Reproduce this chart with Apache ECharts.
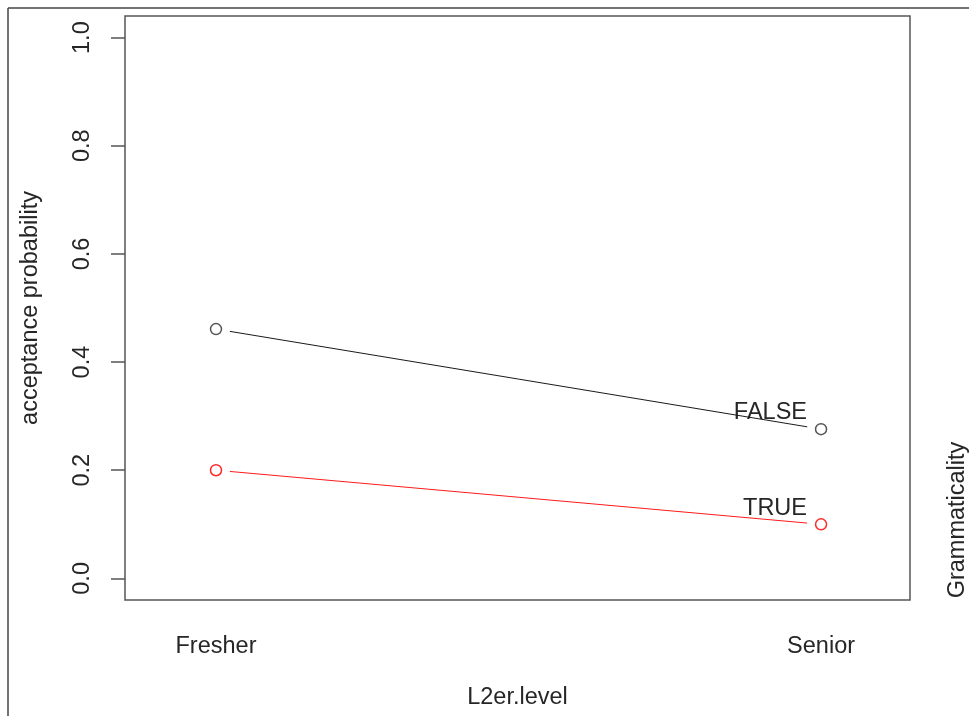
<!DOCTYPE html>
<html>
<head>
<meta charset="utf-8">
<script src="https://cdn.jsdelivr.net/npm/echarts@6/dist/echarts.min.js"></script>
<style>
  html, body { margin: 0; padding: 0; background: #fff; }
  #chart { width: 969px; height: 716px; }
</style>
</head>
<body>
<div id="chart"></div>
<script>
// Interaction plot: acceptance probability by L2er level, one trace per Grammaticality level
const categories = ['Fresher', 'Senior'];
const traceLevels = ['FALSE', 'TRUE'];
const falseValues = [0.461, 0.276];
const trueValues = [0.200, 0.100];
const yTicks = [0, 0.2, 0.4, 0.6, 0.8, 1.0];

const traceValues = [falseValues, trueValues];
const lineColors = ['#1a1a1a', '#ff1a1a'];
const pointColors = ['#555555', '#ff2a2a'];
const FONT = '"Liberation Sans", Arial, sans-serif';
const FS = 23.5;
const TEXT = '#262626';

// x positions 1..n for the categories
const xs = categories.map((c, i) => i + 1);

function segmentData(values) {
  const out = [];
  for (let i = 0; i < values.length - 1; i++) {
    out.push([xs[i], values[i], xs[i + 1], values[i + 1]]);
  }
  return out;
}

// type "b" style: segments stop short of the points
function gappedLine(color) {
  return function (params, api) {
    const p1 = api.coord([api.value(0), api.value(1)]);
    const p2 = api.coord([api.value(2), api.value(3)]);
    const dx = p2[0] - p1[0], dy = p2[1] - p1[1];
    const len = Math.sqrt(dx * dx + dy * dy);
    const gap = 14;
    const ux = dx / len, uy = dy / len;
    return {
      type: 'line',
      shape: {
        x1: p1[0] + ux * gap, y1: p1[1] + uy * gap,
        x2: p2[0] - ux * gap, y2: p2[1] - uy * gap
      },
      style: { stroke: color, lineWidth: 1 }
    };
  };
}

// open circle at each point
function openCircle(color) {
  return function (params, api) {
    const p = api.coord([api.value(0), api.value(1)]);
    return {
      type: 'circle',
      shape: { cx: p[0], cy: p[1], r: 5.5 },
      style: { fill: 'none', stroke: color, lineWidth: 1.5 }
    };
  };
}

const series = [];
traceValues.forEach((vals, k) => {
  series.push({
    type: 'custom',
    name: traceLevels[k] + ' line',
    renderItem: gappedLine(lineColors[k]),
    encode: { x: [0, 2], y: [1, 3] },
    data: segmentData(vals),
    silent: true
  });
  series.push({
    type: 'custom',
    name: traceLevels[k],
    renderItem: openCircle(pointColors[k]),
    encode: { x: 0, y: 1 },
    data: vals.map((v, i) => [xs[i], v]),
    silent: true
  });
});

const chart = echarts.init(document.getElementById('chart'), null, { renderer: 'canvas' });
chart.setOption({
  animation: false,
  backgroundColor: '#fff',
  grid: {
    left: 125, right: 59, top: 16, bottom: 116,
    show: true, borderColor: '#555', borderWidth: 1.5, backgroundColor: 'transparent'
  },
  xAxis: {
    type: 'value',
    min: 0.8496,
    max: 2.147,
    axisLine: { show: false },
    axisTick: { show: false },
    splitLine: { show: false },
    axisLabel: {
      customValues: xs,
      formatter: v => categories[Math.round(v) - 1] || '',
      fontSize: FS, color: TEXT, fontFamily: FONT, margin: 35
    },
    name: 'L2er.level',
    nameLocation: 'middle',
    nameGap: 86,
    nameTextStyle: { fontSize: FS, color: TEXT, fontFamily: FONT }
  },
  yAxis: {
    type: 'value',
    min: -0.04,
    max: 1.04,
    axisLine: { show: false },
    splitLine: { show: false },
    axisTick: {
      customValues: yTicks,
      length: 14,
      lineStyle: { color: '#555', width: 1.5 }
    },
    axisLabel: {
      customValues: yTicks,
      formatter: v => v.toFixed(1),
      rotate: 90,
      fontSize: FS, color: TEXT, fontFamily: FONT, margin: 30
    },
    name: 'acceptance probability',
    nameLocation: 'middle',
    nameGap: 82,
    nameTextStyle: { fontSize: FS, color: TEXT, fontFamily: FONT }
  },
  graphic: [
    // outer frame
    { type: 'line', shape: { x1: 8, y1: 8, x2: 969, y2: 8 }, style: { stroke: '#444', lineWidth: 1.5 } },
    { type: 'line', shape: { x1: 8, y1: 8, x2: 8, y2: 716 }, style: { stroke: '#444', lineWidth: 1.5 } },
    // trace legend
    { type: 'text', x: 807, y: 413, style: { text: traceLevels[0], font: FS + 'px ' + FONT, fill: TEXT, align: 'right', verticalAlign: 'middle' } },
    { type: 'text', x: 807, y: 509, style: { text: traceLevels[1], font: FS + 'px ' + FONT, fill: TEXT, align: 'right', verticalAlign: 'middle' } },
    { type: 'text', x: 958, y: 520, rotation: Math.PI / 2, style: { text: 'Grammaticality', font: FS + 'px ' + FONT, fill: TEXT, align: 'center', verticalAlign: 'middle' } }
  ],
  series: series
});
</script>
</body>
</html>
